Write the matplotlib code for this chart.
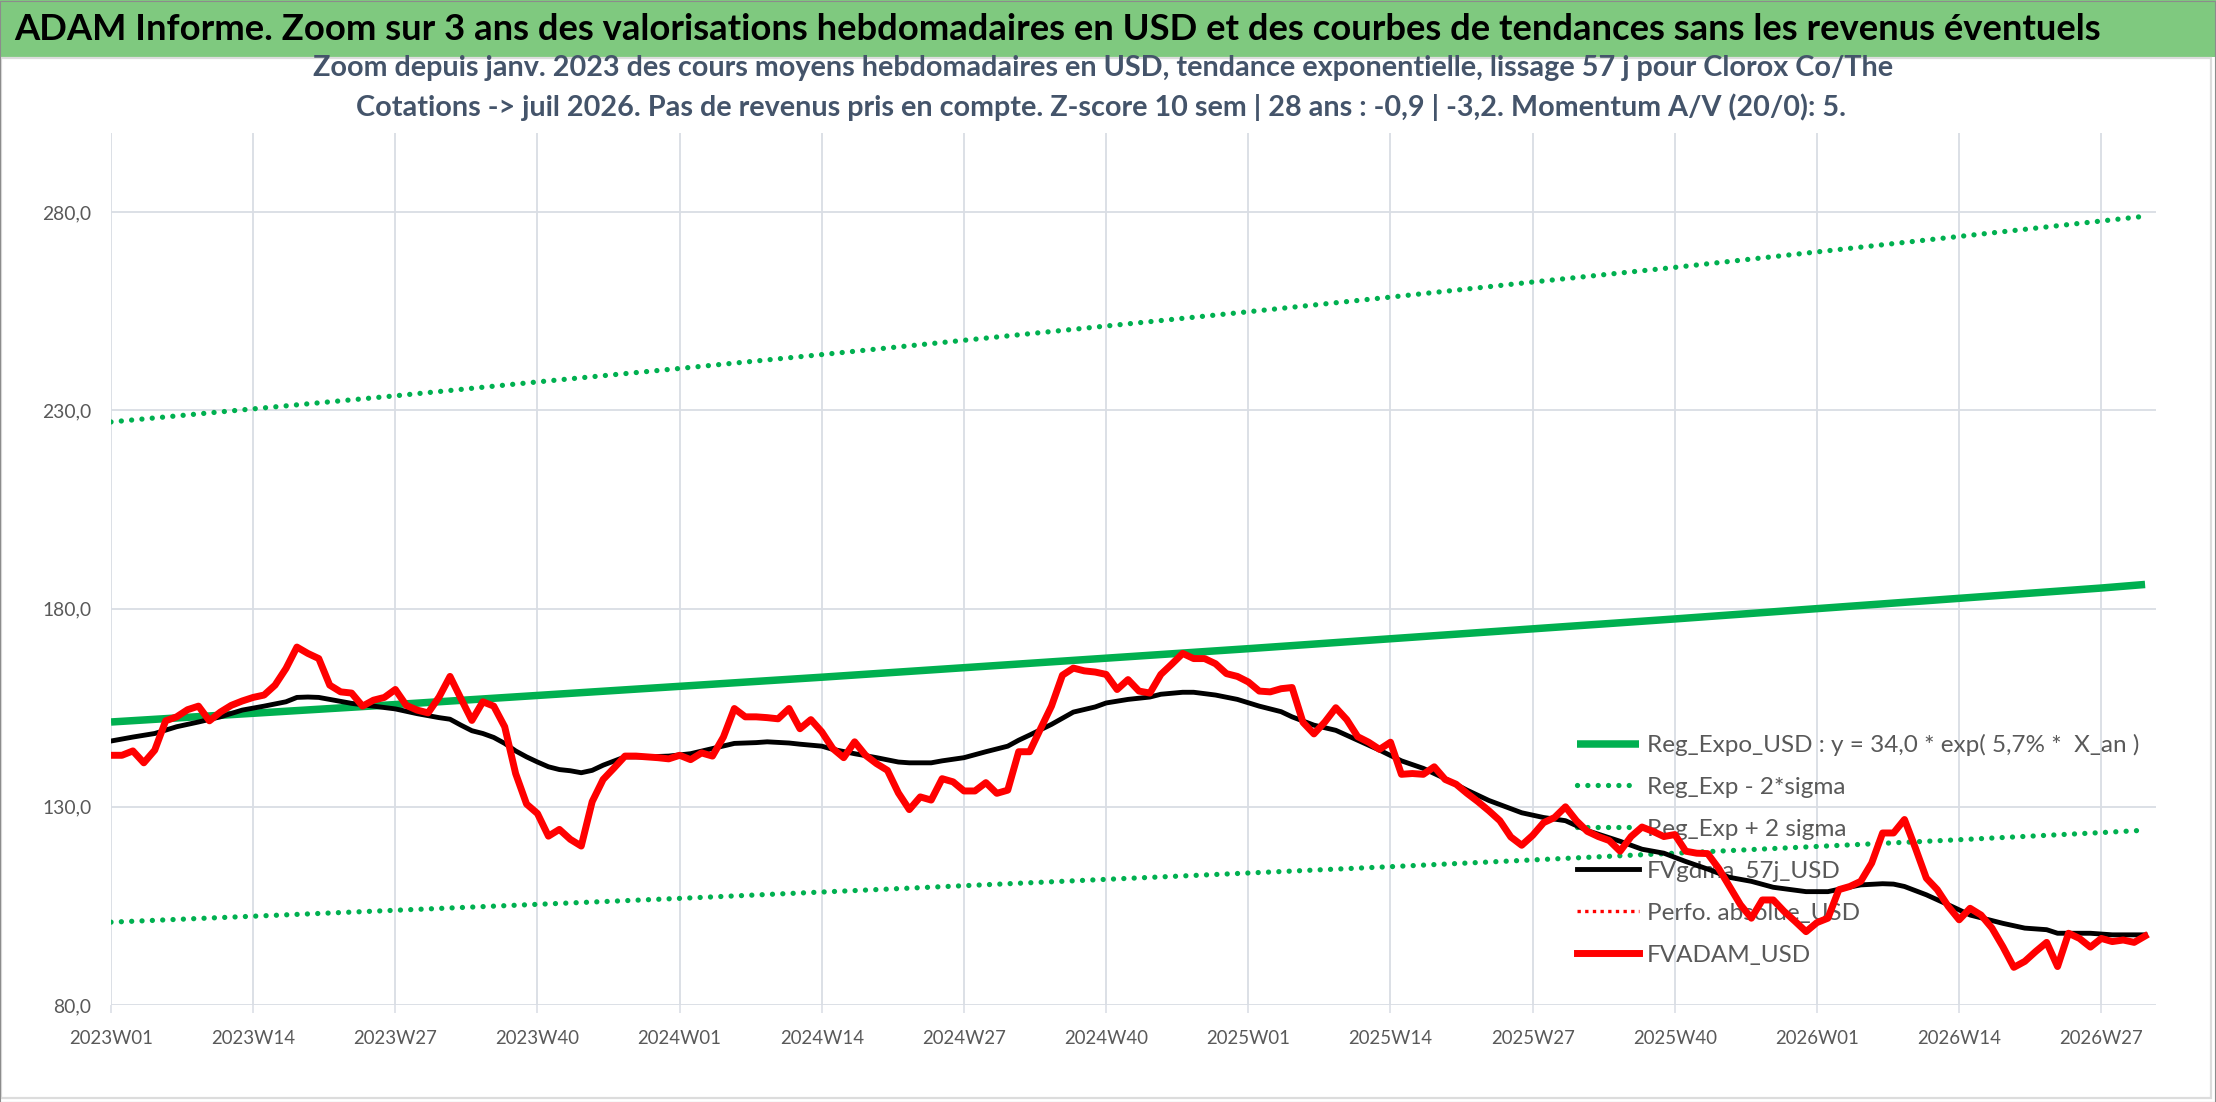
import matplotlib
matplotlib.use('Agg')
import matplotlib.pyplot as plt
from matplotlib.patches import Rectangle

FAM = ['Lato', 'Liberation Sans', 'DejaVu Sans']
plt.rcParams['font.family'] = FAM

W, H = 2216, 1102

# ---- data ----
week_labels = ["2023W01", "2023W14", "2023W27", "2023W40", "2024W01", "2024W14",
               "2024W27", "2024W40", "2025W01", "2025W14", "2025W27", "2025W40",
               "2026W01", "2026W14", "2026W27"]

# FVADAM_USD, one value per week from 2023W01
fvadam = [143.0, 143.0, 144.1, 141.1, 144.3, 151.7, 152.7, 154.5, 155.4, 151.7,
          153.9, 155.6, 156.7, 157.6, 158.2, 160.7, 164.9, 170.3, 168.7, 167.4,
          160.7, 159.0, 158.7, 155.4, 156.9, 157.6, 159.6, 155.6, 154.4, 153.7,
          157.7, 162.9, 157.3, 151.8, 156.5, 155.4, 150.2, 138.4, 130.7, 128.3,
          122.6, 124.3, 121.8, 120.1, 131.3, 136.9, 139.8, 142.8, 142.8, 142.6,
          142.4, 142.1, 143.0, 141.9, 143.6, 142.8, 147.6, 154.8, 152.7, 152.7,
          152.5, 152.2, 154.8, 149.7, 152.0, 148.9, 144.7, 142.4, 146.4, 143.0,
          140.9, 139.2, 133.5, 129.3, 132.5, 131.7, 137.1, 136.3, 134.0, 134.0,
          136.1, 133.4, 134.2, 143.9, 143.9, 149.7, 155.4, 163.2, 165.0, 164.3,
          164.0, 163.4, 159.6, 162.1, 159.2, 158.7, 163.4, 166.0, 168.7, 167.4,
          167.4, 166.1, 163.6, 162.9, 161.5, 159.2, 159.0, 159.8, 160.1, 151.3,
          148.4, 151.4, 155.0, 152.0, 147.7, 146.3, 144.5, 146.3, 138.2, 138.4,
          138.2, 140.1, 136.9, 135.7, 133.4, 131.3, 129.0, 126.5, 122.4, 120.3,
          122.8, 126.0, 127.3, 130.0, 126.5, 123.8, 122.5, 121.5, 118.8, 122.5,
          124.9, 123.8, 122.5, 123.0, 118.8, 118.3, 118.2, 114.5, 109.9, 105.3,
          101.9, 106.5, 106.5, 103.6, 101.1, 98.5, 100.8, 101.9, 109.1, 109.9,
          111.2, 115.8, 123.4, 123.4, 126.8, 119.6, 112.0, 109.1, 104.9, 101.5,
          104.4, 102.7, 99.4, 94.7, 89.5, 91.0, 93.5, 95.8, 89.7, 98.1,
          96.8, 94.6, 96.8, 96.0, 96.4, 95.8, 97.4]

# FVgdma_57j_USD (smooth curve, read at selected weeks)
gdma_week = [0, 2, 4, 6, 8, 10, 12, 14, 16, 17, 18, 19, 20, 22, 24, 26, 28, 30, 31, 32,
             33, 34, 35, 36, 37, 38, 39, 40, 41, 42, 43, 44, 45, 47, 49, 51, 53, 55, 57, 59,
             60, 62, 63, 65, 66, 68, 70, 72, 73, 75, 76, 78, 80, 82, 83, 84, 86, 88, 90, 91,
             93, 95, 96, 98, 99, 101, 103, 105, 107, 108, 110, 112, 114, 116, 118, 120, 122, 124, 126, 129,
             131, 133, 135, 138, 140, 142, 144, 146, 148, 150, 152, 155, 157, 158, 160, 162, 163, 164, 166, 168,
             170, 173, 175, 177, 178, 181, 183, 186]
gdma_val = [146.6, 147.6, 148.5, 150.2, 151.4, 152.7, 154.4, 155.4, 156.5, 157.6, 157.7, 157.6, 157.1, 156.1, 155.4, 154.7, 153.5, 152.5, 152.1, 150.6,
            149.2, 148.5, 147.5, 146.0, 144.1, 142.6, 141.3, 140.1, 139.4, 139.1, 138.6, 139.2, 140.5, 142.6, 142.6, 142.8, 143.4, 144.7, 146.0, 146.2,
            146.4, 146.1, 145.8, 145.3, 144.5, 143.4, 142.4, 141.3, 141.1, 141.1, 141.6, 142.4, 143.9, 145.3, 146.8, 148.1, 150.8, 153.9, 155.2, 156.2,
            157.1, 157.7, 158.4, 158.9, 158.9, 158.2, 157.1, 155.4, 154.0, 152.7, 150.6, 149.3, 146.8, 144.3, 141.6, 139.7, 137.1, 134.2, 131.6, 128.5,
            127.3, 126.5, 124.0, 121.3, 119.3, 118.3, 116.2, 114.3, 112.2, 111.2, 109.7, 108.6, 108.6, 109.2, 110.3, 110.6, 110.5, 109.9, 107.8, 105.3,
            102.7, 100.6, 99.4, 99.0, 98.1, 98.1, 97.7, 97.7]

# exponential trend and +/- 2 sigma band, read every 13 weeks
trend_week = [0, 13, 26, 39, 52, 65, 78, 91, 104, 117, 130, 143, 156, 169, 182, 186]
reg_expo = [151.4, 153.6, 155.8, 158.1, 160.4, 162.7, 165.1, 167.5, 169.9, 172.4,
            174.9, 177.4, 180.0, 182.6, 185.2, 186.1]
reg_plus = [227.1, 230.4, 233.7, 237.2, 240.6, 244.1, 247.7, 251.3, 254.9, 258.6,
            262.4, 266.1, 270.0, 273.9, 277.8, 279.0]
reg_minus = [100.9, 102.4, 103.9, 105.4, 106.9, 108.5, 110.1, 111.7, 113.3, 114.9,
             116.6, 118.3, 120.0, 121.7, 123.5, 124.1]

y_ticks = [80, 130, 180, 230, 280]

TITLE = ("ADAM Informe. Zoom sur 3 ans des valorisations hebdomadaires en USD et des "
         "courbes de tendances sans les revenus éventuels")
SUB1 = ("Zoom depuis janv. 2023 des cours moyens hebdomadaires en USD, tendance "
        "exponentielle, lissage 57 j pour Clorox Co/The")
SUB2 = ("Cotations -> juil 2026. Pas de revenus pris en compte. Z-score 10 sem | 28 ans : "
        "-0,9 | -3,2. Momentum A/V (20/0): 5.")
LEG0 = "Reg_Expo_USD : y = 34,0 * exp( 5,7% *  X_an )"

GREEN = "#00B050"
GRID = "#D9DDE4"
SLATE = "#44546A"
GREY_TXT = "#595959"

fig = plt.figure(figsize=(W / 100, H / 100), dpi=100)
fig.patch.set_facecolor("white")
renderer = fig.canvas.get_renderer()


def size_for(s, target_px, **kw):
    # font size (pt) that makes text s about target_px wide
    t = fig.text(0, 0, s, fontsize=20, **kw)
    w = t.get_window_extent(renderer).width
    t.remove()
    return 20 * target_px / w


def height_px(s, size, **kw):
    t = fig.text(0, 0, s, fontsize=size, **kw)
    h = t.get_window_extent(renderer).height
    t.remove()
    return h


# header band + chart frame
fig.add_artist(Rectangle((0, 1 - 57 / H), 1, 57 / H, transform=fig.transFigure,
                         facecolor="#7FC97F", edgecolor="none", zorder=0))
fig.add_artist(Rectangle((1 / W, 4 / H), 2210 / W, (H - 62) / H, transform=fig.transFigure,
                         facecolor="none", edgecolor="#DCDCDC", lw=1.6, zorder=0))
fig.add_artist(Rectangle((0, 0), 1 - 1 / W, 1 - 1 / H, transform=fig.transFigure,
                         facecolor="none", edgecolor="#8C8C8C", lw=0.8, zorder=0))

ax = fig.add_axes([111 / W, 1 - 1005 / H, (2156 - 111) / W, (1005 - 133) / H])
ax.set_facecolor("none")

ax.plot(trend_week, reg_expo, color=GREEN, lw=5.4, solid_capstyle="butt", zorder=4,
        label=LEG0)
dot = (0, (0.01, 1.95))
ax.plot(trend_week, reg_minus, color=GREEN, lw=3.8, linestyle=dot, dash_capstyle="round",
        zorder=4, label="Reg_Exp - 2*sigma")
ax.plot(trend_week, reg_plus, color=GREEN, lw=3.8, linestyle=dot, dash_capstyle="round",
        zorder=4, label="Reg_Exp + 2 sigma")
ax.plot(gdma_week, gdma_val, color="black", lw=3.5, zorder=5, label="FVgdma_57j_USD")
ax.plot([], [], color="#FF0000", lw=2.4, linestyle=(0, (1, 1.3)), label="Perfo. absolue_USD")
ax.plot(range(len(fvadam)), fvadam, color="#FF0000", lw=5.0, zorder=6, label="FVADAM_USD")

ax.set_xlim(0, 187)
ax.set_ylim(80, 300)
ax.set_xticks([13 * k for k in range(len(week_labels))])
ax.set_xticklabels(week_labels)
ax.set_yticks(y_ticks)
ax.set_yticklabels([f"{v:.1f}".replace(".", ",") for v in y_ticks])
ax.grid(True, color=GRID, lw=1.3, zorder=0)
ax.set_axisbelow(True)
for s in ax.spines.values():
    s.set_visible(False)

xfs = size_for("2023W01", 84)
yfs = size_for("80,0", 38)
ax.tick_params(axis="x", length=5.8, width=1.1, color=GRID, pad=12,
               labelsize=xfs, labelcolor=GREY_TXT)
ax.tick_params(axis="y", length=0, pad=14, labelsize=yfs, labelcolor=GREY_TXT)

# legend, drawn under the curves
lfs = size_for(LEG0, 492)
lfs_px = lfs * 100 / 72
row_h = height_px(LEG0, lfs)
lspace = max(0.0, (43 - row_h) / lfs_px)
leg = ax.legend(loc="upper left",
                bbox_to_anchor=((1577 - 111) / 2045, (1005 - 745 + row_h / 2) / 872),
                frameon=False, fontsize=lfs, labelcolor=GREY_TXT,
                handlelength=62 / lfs_px, handletextpad=8 / lfs_px,
                labelspacing=lspace, borderpad=0, borderaxespad=0)
leg.set_zorder(2)

# titles
t0 = fig.text(14 / W, 1 - 30 / H, TITLE, ha="left", va="center",
              fontsize=size_for(TITLE, 2087, fontweight="bold"),
              fontweight="bold", color="black")
sub_fs = 0.5 * (size_for(SUB1, 1462, fontweight="bold") + size_for(SUB2, 1597, fontweight="bold"))
t1 = fig.text(1103 / W, 1 - 68 / H, SUB1, ha="center", va="center", fontsize=sub_fs,
              fontweight="bold", color=SLATE)
t2 = fig.text(1101 / W, 1 - 107 / H, SUB2, ha="center", va="center", fontsize=sub_fs,
              fontweight="bold", color=SLATE)

fig.savefig("out.png", dpi=100)
